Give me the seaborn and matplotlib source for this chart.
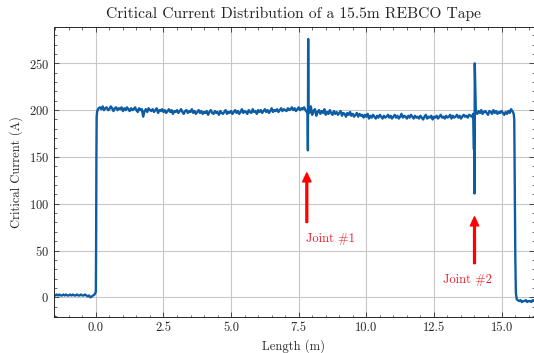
import numpy as np
import pandas as pd
import matplotlib
matplotlib.use("Agg")
import matplotlib.pyplot as plt
import seaborn as sns
from matplotlib.ticker import AutoMinorLocator

# ---- data (Length in m, Ic in A) ----
# left baseline, before the tape starts
base_left_range = (-1.55, -0.05)
base_left_ic = [3, 2, 3, 2, 3, 2, 2, 3, 2, 3, 2, 2, 3, 2, 3, 2, 2, 3, 2, 2,
                3, 2, 2, 3, 2, 1, 2, 0, 1, 2, 3]

rise_len = [0.0, 0.01, 0.02, 0.03]
rise_ic = [6, 60, 150, 193]

# plateau before joint #1
seg_a_range = (0.05, 7.80)
seg_a_ic = [199, 202, 203, 201, 204, 200, 202, 203, 200, 201, 204, 202, 199, 202, 203, 200, 202, 201, 203, 199,
            202, 200, 203, 201, 199, 202, 200, 201, 203, 200, 198, 202, 200, 201, 193, 199, 201, 198, 202, 200,
            199, 201, 198, 200, 202, 197, 200, 199, 201, 198, 200, 197, 199, 201, 198, 200, 196, 199, 198, 200,
            197, 199, 201, 198, 196, 199, 200, 197, 199, 198, 201, 197, 199, 196, 198, 200, 197, 199, 196, 198,
            197, 199, 195, 198, 200, 197, 196, 199, 197, 198, 195, 199, 197, 196, 198, 200, 196, 198, 197, 199,
            196, 198, 200, 197, 199, 196, 198, 201, 197, 199, 198, 196, 200, 198, 197, 201, 198, 199, 196, 200,
            198, 200, 197, 199, 201, 198, 200, 197, 199, 202, 198, 200, 199, 201, 198, 200, 202, 199, 201, 200,
            199, 202, 200, 201, 203, 200, 202, 199, 201, 203, 200, 202, 201, 203, 200, 198]

joint1_len = [7.83, 7.84, 7.85, 7.86]
joint1_ic = [198, 157, 276, 203]

# plateau between the joints
seg_b_range = (7.90, 13.95)
seg_b_ic = [197, 204, 195, 199, 201, 194, 198, 200, 196, 199, 197, 201, 195, 198, 196, 200, 197, 195, 199, 196,
            198, 195, 197, 199, 194, 197, 196, 193, 197, 195, 198, 194, 196, 193, 195, 197, 193, 196, 194, 195,
            192, 195, 193, 196, 191, 194, 192, 195, 193, 191, 194, 192, 195, 193, 191, 194, 192, 193, 195, 192,
            194, 191, 193, 195, 192, 194, 191, 193, 196, 192, 194, 193, 191, 194, 192, 195, 193, 191, 194, 192,
            193, 191, 194, 192, 190, 193, 195, 191, 193, 192, 194, 190, 193, 192, 194, 191, 193, 195, 192, 193,
            191, 194, 192, 193, 195, 191, 194, 192, 193, 195, 192, 194, 191, 193, 195, 193, 194, 192, 195, 194,
            193, 196]

joint2_len = [13.98, 13.99, 14.00, 14.01]
joint2_ic = [158, 196, 111, 250]

# plateau after joint #2
seg_c_range = (14.05, 15.45)
seg_c_ic = [198, 196, 199, 197, 200, 196, 198, 199, 197, 195, 199, 198, 196, 200, 197, 199, 196, 198, 197, 199,
            197, 195, 198, 196, 199, 197, 201, 199, 196]

drop_len = [15.47, 15.49, 15.51, 15.53, 15.56]
drop_ic = [190, 120, 40, 5, -2]

base_right_range = (15.60, 16.20)
base_right_ic = [-3, -4, -3, -5, -4, -4, -3, -5, -4, -4, -5, -3, -4]

joint_labels = ["Joint #1", "Joint #2"]


def seg(rng, vals):
    return list(np.linspace(rng[0], rng[1], len(vals))), list(vals)


parts = [
    seg(base_left_range, base_left_ic),
    (rise_len, rise_ic),
    seg(seg_a_range, seg_a_ic),
    (joint1_len, joint1_ic),
    seg(seg_b_range, seg_b_ic),
    (joint2_len, joint2_ic),
    seg(seg_c_range, seg_c_ic),
    (drop_len, drop_ic),
    seg(base_right_range, base_right_ic),
]
df = pd.DataFrame({
    "Length": [v for p in parts for v in p[0]],
    "Ic": [v for p in parts for v in p[1]],
})

# ---- style ----
sns.set_style("ticks")
plt.rcParams["font.family"] = ["cmr10", "DejaVu Serif"]
plt.rcParams["mathtext.fontset"] = "cm"
plt.rcParams["axes.formatter.use_mathtext"] = True
plt.rcParams["xtick.direction"] = "in"
plt.rcParams["ytick.direction"] = "in"

fig = plt.figure(figsize=(5.34, 3.53), dpi=100)
ax = fig.add_axes([0.101, 0.102, 0.899, 0.822])

sns.lineplot(data=df, x="Length", y="Ic", ax=ax, color="#0C5DA5",
             linewidth=1.7, estimator=None, sort=False)

ax.set_xlim(-1.55, 16.2)
ax.set_ylim(-21, 289)
ax.set_xticks([0, 2.5, 5, 7.5, 10, 12.5, 15])
ax.set_xticklabels(["0.0", "2.5", "5.0", "7.5", "10.0", "12.5", "15.0"])
ax.set_yticks([0, 50, 100, 150, 200, 250])
ax.xaxis.set_minor_locator(AutoMinorLocator(5))
ax.yaxis.set_minor_locator(AutoMinorLocator(5))
ax.tick_params(which="both", top=True, right=True, labelsize=9, color="#333333")
ax.tick_params(which="major", length=3.5, width=0.6)
ax.tick_params(which="minor", length=1.8, width=0.5)
for s in ax.spines.values():
    s.set_linewidth(0.7)
ax.grid(True, color="#c8c8c8", linewidth=0.8)
ax.set_axisbelow(True)

ax.set_title("Critical Current Distribution of a 15.5m REBCO Tape", fontsize=11.2)
ax.set_xlabel("Length (m)", fontsize=9)
ax.set_ylabel("Critical Current (A)", fontsize=9)

arrow = dict(facecolor="red", edgecolor="red", width=1.3, headwidth=6, headlength=6.5)
ax.annotate("", xy=(7.8, 133), xytext=(7.8, 80), arrowprops=arrow)
ax.text(7.78, 62, joint_labels[0], color="#e8202a", fontsize=9, ha="left", va="center")
ax.annotate("", xy=(14.0, 86), xytext=(14.0, 36), arrowprops=arrow)
ax.text(13.74, 19, joint_labels[1], color="#e8202a", fontsize=9, ha="center", va="center")

fig.savefig("out.png", dpi=100)
